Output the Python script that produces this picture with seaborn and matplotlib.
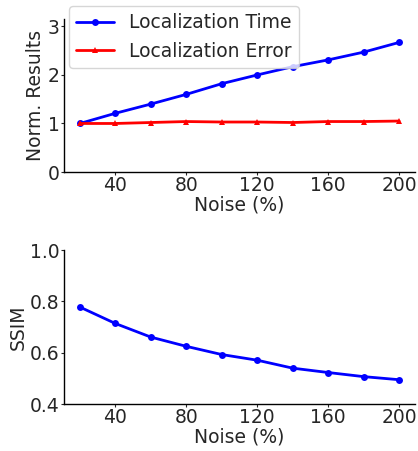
import matplotlib
matplotlib.use("Agg")
import matplotlib.pyplot as plt
import seaborn as sns
import pandas as pd

noise = [20, 40, 60, 80, 100, 120, 140, 160, 180, 200]
loc_time = [1.00, 1.21, 1.40, 1.60, 1.82, 2.00, 2.17, 2.31, 2.47, 2.67]
loc_error = [1.00, 1.00, 1.02, 1.04, 1.03, 1.03, 1.02, 1.04, 1.04, 1.05]
ssim = [0.778, 0.714, 0.661, 0.625, 0.593, 0.571, 0.540, 0.523, 0.507, 0.495]

sns.set_style("white", {"axes.edgecolor": "black", "xtick.bottom": True, "ytick.left": True})
plt.rcParams["font.family"] = ["DejaVu Sans"]
FS = 13.5

fig = plt.figure(figsize=(4.18, 4.51), dpi=100)
ax1 = fig.add_axes([0.153, 0.6186, 0.840, 0.339])
ax2 = fig.add_axes([0.153, 0.104, 0.840, 0.3415])

df1 = pd.DataFrame({"Noise": noise, "Time": loc_time, "Error": loc_error})
sns.lineplot(data=df1, x="Noise", y="Time", ax=ax1, color="blue", marker="o",
             markersize=5, markeredgewidth=0, linewidth=2, label="Localization Time")
sns.lineplot(data=df1, x="Noise", y="Error", ax=ax1, color="red", marker="^",
             markersize=5, markeredgewidth=0, linewidth=2, label="Localization Error")
ax1.set_ylim(0, 3.15)
ax1.set_yticks([0, 1, 2, 3])
ax1.set_xticks([40, 80, 120, 160, 200])
ax1.set_xlabel("Noise (%)", fontsize=FS, labelpad=0)
ax1.set_ylabel("Norm. Results", fontsize=FS, labelpad=2)
ax1.legend(loc="upper left", bbox_to_anchor=(0.165, 0.987), bbox_transform=fig.transFigure,
           borderaxespad=0, fontsize=FS, frameon=True)

df2 = pd.DataFrame({"Noise": noise, "SSIM": ssim})
sns.lineplot(data=df2, x="Noise", y="SSIM", ax=ax2, color="blue", marker="o",
             markersize=5, markeredgewidth=0, linewidth=2)
ax2.set_ylim(0.4, 1.0)
ax2.set_yticks([0.4, 0.6, 0.8, 1.0])
ax2.set_xticks([40, 80, 120, 160, 200])
ax2.set_xlabel("Noise (%)", fontsize=FS, labelpad=0)
ax2.set_ylabel("SSIM", fontsize=FS, labelpad=2)

for ax in (ax1, ax2):
    sns.despine(ax=ax)
    ax.tick_params(labelsize=FS, length=2, width=0.8, pad=1)
    for s in ax.spines.values():
        s.set_linewidth(1.0)

fig.savefig("out.png", dpi=100)
